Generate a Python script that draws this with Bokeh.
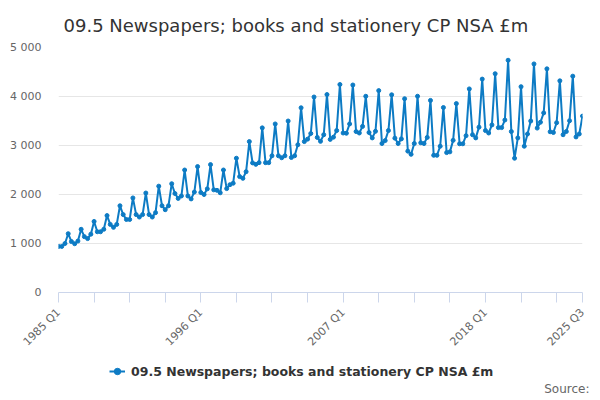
import math
from bokeh.plotting import figure
from bokeh.layouts import column
from bokeh.models import FixedTicker, Legend, LegendItem, Range1d, Title
from bokeh.embed import file_html
from bokeh.resources import INLINE

title_text = "09.5 Newspapers; books and stationery CP NSA £m"
series_name = "09.5 Newspapers; books and stationery CP NSA £m"
source_text = "Source:"

first_year = 1985
last_year = 2025
quarters = [f"{y} Q{q}" for y in range(first_year, last_year + 1) for q in range(1, 5)][:163]

values = [
    940, 940, 1000, 1200,
    1040, 995, 1050, 1290,
    1140, 1100, 1190, 1450,
    1240, 1240, 1290, 1570,
    1390, 1330, 1390, 1770,
    1590, 1490, 1490, 1930,
    1590, 1540, 1590, 2030,
    1590, 1540, 1630, 2170,
    1770, 1690, 1770, 2220,
    2020, 1920, 1970, 2500,
    1970, 1910, 2050, 2570,
    2040, 2000, 2115, 2610,
    2095, 2085, 2035, 2500,
    2120, 2200, 2230, 2740,
    2365, 2330, 2465, 3080,
    2645, 2615, 2650, 3360,
    2650, 2650, 2790, 3440,
    2790, 2750, 2790, 3500,
    2755, 2790, 3015, 3770,
    3080, 3130, 3245, 3990,
    3165, 3085, 3220, 4040,
    3125, 3170, 3305, 4245,
    3255, 3250, 3440, 4235,
    3285, 3255, 3390, 4005,
    3265, 3155, 3290, 4120,
    3040, 3100, 3305, 4035,
    3150, 3040, 3135, 3955,
    2885, 2820, 3040, 4005,
    3055, 3040, 3165, 3920,
    2800, 2800, 2985, 3775,
    2855, 2870, 3105, 3855,
    3035, 3035, 3200, 4155,
    3220, 3155, 3375, 4355,
    3305, 3255, 3420, 4465,
    3365, 3365, 3520, 4740,
    3285, 2740, 3155, 4200,
    2985, 3235, 3500, 4665,
    3355, 3475, 3665, 4565,
    3280, 3265, 3465, 4320,
    3220, 3285, 3505, 4415,
    3175, 3235, 3600,
]

x_label_list = ["1985 Q1", "1996 Q1", "2007 Q1", "2018 Q1", "2025 Q3"]
x_tick_step = 11
y_ticks = [0, 1000, 2000, 3000, 4000, 5000]
y_tick_labels = ["0", "1 000", "2 000", "3 000", "4 000", "5 000"]

FONT = "DejaVu Sans"
LINE_COLOR = "#0d7bc4"

xs = list(range(len(quarters)))
n_last = len(quarters) - 1
x_ticks = list(range(0, n_last, x_tick_step)) + [n_last]
x_overrides = {t: "" for t in x_ticks}
for lab in x_label_list:
    x_overrides[quarters.index(lab)] = lab

p = figure(width=600, height=356, output_backend="svg", toolbar_location=None,
           x_range=Range1d(0, n_last), y_range=Range1d(0, 5000),
           min_border_left=58, min_border_right=18, min_border_top=46, min_border_bottom=58)
p.outline_line_color = None
p.background_fill_color = "white"

p.title.text = title_text
p.title.text_font = FONT
p.title.text_font_size = "18px"
p.title.text_font_style = "normal"
p.title.text_color = "#333333"
p.title.align = "left"
p.title.offset = 5
p.title.standoff = 24

# y axis
p.yaxis.ticker = FixedTicker(ticks=y_ticks)
p.yaxis.major_label_overrides = dict(zip(y_ticks, y_tick_labels))
p.yaxis.axis_line_color = None
p.yaxis.major_tick_line_color = None
p.yaxis.major_tick_out = 0
p.yaxis.major_tick_in = 0
p.yaxis.minor_tick_line_color = None
p.yaxis.minor_tick_out = 0
p.yaxis.major_label_standoff = 17
p.yaxis.major_label_text_font = FONT
p.yaxis.major_label_text_font_size = "11px"
p.yaxis.major_label_text_color = "#666666"

# x axis
p.xaxis.ticker = FixedTicker(ticks=x_ticks)
p.xaxis.major_label_overrides = x_overrides
p.xaxis.axis_line_color = "#ccd6eb"
p.xaxis.major_tick_line_color = "#ccd6eb"
p.xaxis.major_tick_out = 10
p.xaxis.major_tick_in = 0
p.xaxis.minor_tick_line_color = None
p.xaxis.minor_tick_out = 0
p.xaxis.major_label_orientation = math.pi / 4
p.xaxis.major_label_standoff = 8
p.xaxis.major_label_text_font = FONT
p.xaxis.major_label_text_font_size = "11px"
p.xaxis.major_label_text_color = "#666666"

p.xgrid.visible = False
p.ygrid.ticker = FixedTicker(ticks=y_ticks[1:])
p.ygrid.grid_line_color = "#e6e6e6"
p.ygrid.grid_line_width = 1

p.line(xs, values, line_color=LINE_COLOR, line_width=2)
p.scatter(xs, values, size=4, fill_color=LINE_COLOR, line_color=LINE_COLOR)

# footer with legend and source (its frame is aligned with the chart's: x 58..582)
f = figure(width=600, height=44, output_backend="svg", toolbar_location=None,
           x_range=Range1d(58, 582), y_range=Range1d(0, 25),
           x_axis_type=None, y_axis_type=None,
           min_border_left=0, min_border_right=0, min_border_top=0, min_border_bottom=0)
f.outline_line_color = None
f.xgrid.visible = False
f.ygrid.visible = False
# legend swatch renderers (first data point; lies outside this footer's ranges)
lg_line = f.line(xs[:1], values[:1], line_color=LINE_COLOR, line_width=2)
lg_mark = f.scatter(xs[:1], values[:1], size=3.5, fill_color=LINE_COLOR, line_color=LINE_COLOR)

legend = Legend(items=[LegendItem(label=series_name, renderers=[lg_line, lg_mark])],
                location=(51, 0), orientation="horizontal")
legend.label_text_font = FONT
legend.label_text_font_size = "12.5px"
legend.label_text_font_style = "bold"
legend.label_text_color = "#333333"
legend.label_height = 16
legend.glyph_width = 16
legend.glyph_height = 16
legend.label_standoff = 6
legend.padding = 0
legend.margin = 0
legend.border_line_color = None
legend.background_fill_alpha = 0
f.add_layout(legend, "center")

src = Title(text=source_text, align="right", offset=-7, standoff=5, vertical_align="top",
            text_font=FONT, text_font_size="12px", text_font_style="normal",
            text_color="#666666")
f.add_layout(src, "below")

layout = column(p, f, spacing=0)
open("out.html", "w").write(file_html(layout, INLINE))
